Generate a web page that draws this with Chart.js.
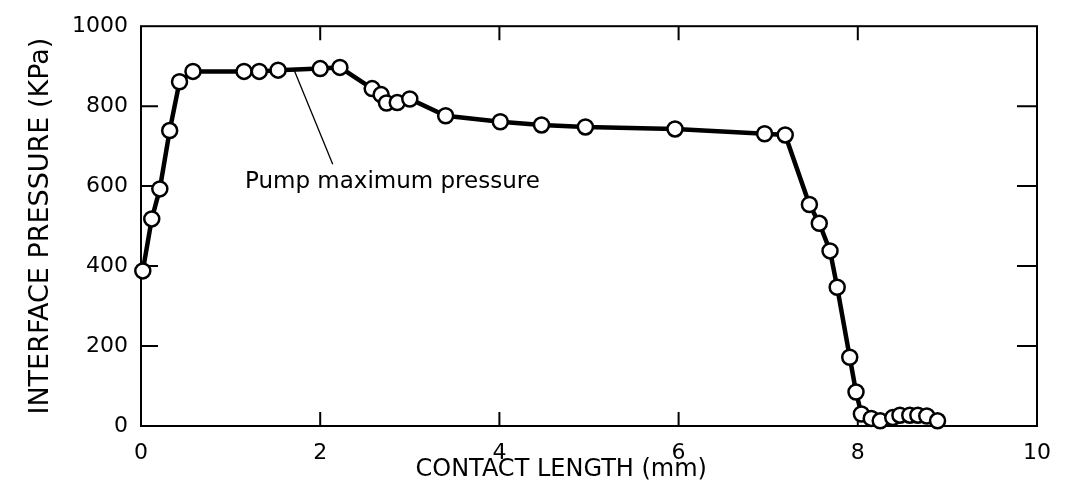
<!DOCTYPE html>
<html>
<head>
<meta charset="utf-8">
<script src="https://cdn.jsdelivr.net/npm/chart.js@4/dist/chart.umd.min.js"></script>
<style>
  html, body { margin: 0; padding: 0; background: #fff; }
  #wrap { width: 1065px; height: 496px; }
</style>
</head>
<body>
<div id="wrap"><canvas id="c" width="1065" height="496"></canvas></div>
<script>
// ---- data ----
const contactLength = [0.02, 0.12, 0.21, 0.32, 0.43, 0.58, 1.15, 1.32, 1.53, 2.0, 2.22,
  2.58, 2.68, 2.74, 2.86, 3.0, 3.4, 4.01, 4.47, 4.96, 5.96, 6.96, 7.19,
  7.46, 7.57, 7.69, 7.77, 7.91, 7.98, 8.04, 8.15, 8.25, 8.39, 8.47, 8.58, 8.67, 8.77, 8.89];
const pressure = [388, 518, 593, 739, 861, 887, 887, 887, 890, 894, 897,
  844, 829, 808, 809, 818, 776, 761, 753, 748, 743, 731, 728,
  554, 507, 438, 347, 172, 85, 30, 19, 13, 21, 27, 27, 27, 25, 13];
const xTicks = [0, 2, 4, 6, 8, 10];
const yTicks = [0, 200, 400, 600, 800, 1000];
const xTitle = 'CONTACT LENGTH (mm)';
const yTitle = 'INTERFACE PRESSURE (KPa)';
const noteText = 'Pump maximum pressure';
const noteLine = [[1.71, 890], [2.14, 655]];
const noteAnchor = [1.16, 609];
const xTitleCenter = 4.69;   // reference title sits left of plot centre

const FONT = "'DejaVu Sans', sans-serif";

const framePlugin = {
  id: 'frame',
  beforeDatasetsDraw(chart) {
    const {ctx, chartArea: a, scales: {x, y}} = chart;
    ctx.save();
    ctx.strokeStyle = '#000';
    ctx.lineWidth = 2;
    ctx.strokeRect(a.left, a.top, a.right - a.left, a.bottom - a.top);
    ctx.beginPath();
    xTicks.slice(1, -1).forEach(v => {
      const px = x.getPixelForValue(v);
      ctx.moveTo(px, a.bottom); ctx.lineTo(px, a.bottom - 14);
      ctx.moveTo(px, a.top); ctx.lineTo(px, a.top + 14);
    });
    yTicks.slice(1, -1).forEach(v => {
      const py = y.getPixelForValue(v);
      ctx.moveTo(a.left, py); ctx.lineTo(a.left + 17, py);
      ctx.moveTo(a.right, py); ctx.lineTo(a.right - 20, py);
    });
    ctx.stroke();
    // annotation leader line
    ctx.lineWidth = 1.3;
    ctx.beginPath();
    ctx.moveTo(x.getPixelForValue(noteLine[0][0]), y.getPixelForValue(noteLine[0][1]));
    ctx.lineTo(x.getPixelForValue(noteLine[1][0]), y.getPixelForValue(noteLine[1][1]));
    ctx.stroke();
    ctx.fillStyle = '#000';
    ctx.font = "23px " + FONT;
    ctx.textAlign = 'left';
    ctx.textBaseline = 'middle';
    ctx.fillText(noteText, x.getPixelForValue(noteAnchor[0]), y.getPixelForValue(noteAnchor[1]));
    // x axis title
    ctx.font = "24px " + FONT;
    ctx.textAlign = 'center';
    ctx.fillText(xTitle, x.getPixelForValue(xTitleCenter), x.bottom - 26);
    ctx.restore();
  }
};

new Chart(document.getElementById('c'), {
  type: 'line',
  data: {
    datasets: [{
      data: contactLength.map((v, i) => ({x: v, y: pressure[i]})),
      borderColor: '#000',
      borderWidth: 4.5,
      pointRadius: 7.5,
      pointBorderWidth: 2.5,
      pointBackgroundColor: '#fff',
      pointBorderColor: '#000',
      tension: 0,
      clip: false
    }]
  },
  options: {
    responsive: false,
    animation: false,
    events: [],
    layout: {padding: {left: 0, top: 24, right: 24, bottom: 0}},
    plugins: {legend: {display: false}, tooltip: {enabled: false}},
    scales: {
      x: {
        type: 'linear', min: 0, max: 10,
        afterFit(s) { s.height = 70; },
        afterBuildTicks(s) { s.ticks = xTicks.map(v => ({value: v})); },
        grid: {display: false, drawTicks: false},
        border: {display: false},
        ticks: {color: '#000', font: {family: FONT, size: 22}, padding: 14, maxRotation: 0,
                callback: v => String(v)}
      },
      y: {
        type: 'linear', min: 0, max: 1000,
        afterFit(s) { s.width = 141; },
        afterBuildTicks(s) { s.ticks = yTicks.map(v => ({value: v})); },
        grid: {display: false, drawTicks: false},
        border: {display: false},
        ticks: {color: '#000', font: {family: FONT, size: 22}, padding: 13,
                callback: v => String(v)},
        title: {display: true, text: yTitle, color: '#000', font: {family: FONT, size: 27}, padding: {top: 25, bottom: 0}}
      }
    }
  },
  plugins: [framePlugin]
});
</script>
</body>
</html>
